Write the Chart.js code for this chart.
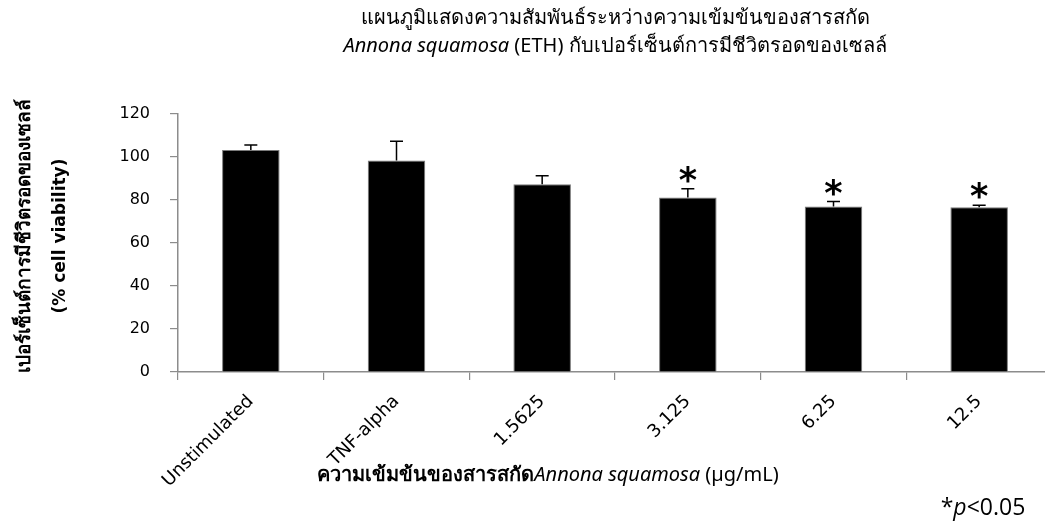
<!DOCTYPE html>
<html>
<head>
<meta charset="utf-8">
<script src="https://cdn.jsdelivr.net/npm/chart.js@4"></script>
<style>
  html, body { margin: 0; padding: 0; background: #fff; overflow: hidden; }
  #wrap { position: relative; width: 1045px; height: 523px; overflow: hidden; }
  #c { position: absolute; left: 0; top: 0; }
</style>
</head>
<body>
<div id="wrap"><canvas id="c" width="1060" height="523"></canvas></div>
<script>
// Treatments on the x axis
const categories = ['Unstimulated', 'TNF-alpha', '1.5625', '3.125', '6.25', '12.5'];
// Mean % cell viability per treatment
const viability = [103.2, 98.4, 87.3, 81.2, 77.0, 76.6];
// Upper error (SEM) per treatment
const errorUp = [2.4, 8.9, 4.0, 4.0, 2.3, 1.0];
// Treatments marked significant (p < 0.05)
const significant = [false, false, false, true, true, true];
// Y axis range
const yMin = 0, yMax = 120, yStep = 20;

const AXIS_GREY = '#8c8c8c';
const LATIN = '"DejaVu Sans", sans-serif';
const THAI = '"Noto Sans", sans-serif';

// Error bars (upward only) with caps
const errorBarPlugin = {
  id: 'errorBars',
  afterDatasetsDraw(chart) {
    const ctx = chart.ctx;
    const meta = chart.getDatasetMeta(0);
    const y = chart.scales.y;
    ctx.save();
    ctx.strokeStyle = '#000';
    ctx.lineWidth = 1.5;
    meta.data.forEach((bar, i) => {
      const top = y.getPixelForValue(viability[i] + errorUp[i]);
      ctx.beginPath();
      ctx.moveTo(bar.x, bar.y);
      ctx.lineTo(bar.x, top);
      ctx.moveTo(bar.x - 6.5, top);
      ctx.lineTo(bar.x + 6.5, top);
      ctx.stroke();
    });
    ctx.restore();
  }
};

// Asterisks above significant bars
const starPlugin = {
  id: 'stars',
  afterDatasetsDraw(chart) {
    const ctx = chart.ctx;
    const meta = chart.getDatasetMeta(0);
    const y = chart.scales.y;
    ctx.save();
    ctx.fillStyle = '#000';
    ctx.font = 'bold 35px ' + LATIN;
    ctx.textAlign = 'center';
    ctx.textBaseline = 'alphabetic';
    const m = ctx.measureText('*');
    meta.data.forEach((bar, i) => {
      if (!significant[i]) return;
      const capY = y.getPixelForValue(viability[i] + errorUp[i]);
      const bottom = capY - 6;
      ctx.fillText('*', bar.x, bottom - m.actualBoundingBoxDescent);
    });
    ctx.restore();
  }
};

// Draws a line built of differently styled runs, centred on cx
function drawRuns(ctx, runs, cx, cy) {
  let total = 0;
  runs.forEach(r => { ctx.font = r.font; r.w = ctx.measureText(r.text).width; total += r.w; });
  let x = cx - total / 2;
  ctx.textAlign = 'left';
  ctx.textBaseline = 'middle';
  runs.forEach(r => { ctx.font = r.font; ctx.fillText(r.text, x, cy); x += r.w; });
}

// Chart title, axis titles and significance note
const textPlugin = {
  id: 'texts',
  afterDraw(chart) {
    const ctx = chart.ctx;
    const area = chart.chartArea;
    const cx = (area.left + area.right) / 2;
    ctx.save();
    ctx.fillStyle = '#000';
    drawRuns(ctx, [
      { text: 'แผนภูมิแสดงความสัมพันธ์ระหว่างความเข้มข้นของสารสกัด', font: '20px ' + THAI }
    ], cx, 18);
    drawRuns(ctx, [
      { text: 'Annona squamosa', font: 'italic 20px ' + THAI },
      { text: ' (ETH) กับเปอร์เซ็นต์การมีชีวิตรอดของเซลล์', font: '20px ' + THAI }
    ], cx, 46);

    // x axis title
    drawRuns(ctx, [
      { text: 'ความเข้มข้นของสารสกัด', font: 'bold 20px ' + THAI },
      { text: 'Annona squamosa', font: 'italic 20px ' + THAI },
      { text: ' (µg/mL)', font: '20px ' + THAI }
    ], 548, 475);

    // y axis title (two rotated lines)
    ctx.save();
    ctx.translate(25, 236);
    ctx.rotate(-Math.PI / 2);
    drawRuns(ctx, [{ text: 'เปอร์เซ็นต์การมีชีวิตรอดของเซลล์', font: 'bold 19px ' + THAI }], 0, 0);
    ctx.restore();
    ctx.save();
    ctx.translate(61, 236);
    ctx.rotate(-Math.PI / 2);
    drawRuns(ctx, [{ text: '(% cell viability)', font: 'bold 17px ' + LATIN }], 0, 0);
    ctx.restore();

    // significance note
    drawRuns(ctx, [
      { text: '*', font: '23px "Open Sans", sans-serif' },
      { text: 'p', font: 'italic 23px "Open Sans", sans-serif' },
      { text: '<0.05', font: '23px "Open Sans", sans-serif' }
    ], 983, 508);
    ctx.restore();
  }
};

new Chart(document.getElementById('c'), {
  type: 'bar',
  data: {
    labels: categories,
    datasets: [{
      data: viability,
      backgroundColor: '#000',
      borderColor: '#7a7a7a',
      borderWidth: 1,
      borderSkipped: 'bottom',
      categoryPercentage: 1.0,
      barPercentage: 0.395
    }]
  },
  options: {
    responsive: false,
    animation: false,
    devicePixelRatio: 1,
    layout: { padding: { top: 114, right: 8, left: 0, bottom: 0 } },
    plugins: { legend: { display: false }, tooltip: { enabled: false }, title: { display: false } },
    scales: {
      x: {
        grid: { display: true, offset: true, drawOnChartArea: false, drawTicks: true, tickLength: 8, color: AXIS_GREY, lineWidth: 1.2 },
        border: { display: true, color: AXIS_GREY, width: 1.5 },
        ticks: { color: '#000', font: { family: 'DejaVu Sans', size: 18 }, minRotation: 45, maxRotation: 45, padding: 11 },
        afterFit(scale) { scale.height = 151; }
      },
      y: {
        min: yMin, max: yMax,
        grid: { display: true, drawOnChartArea: false, drawTicks: true, tickLength: 8, color: AXIS_GREY, lineWidth: 1.2 },
        border: { display: true, color: AXIS_GREY, width: 1.5 },
        ticks: { stepSize: yStep, color: '#000', font: { family: 'DejaVu Sans', size: 16 }, padding: 20 },
        afterFit(scale) { scale.width = 178; }
      }
    }
  },
  plugins: [errorBarPlugin, starPlugin, textPlugin]
});
</script>
</body>
</html>
